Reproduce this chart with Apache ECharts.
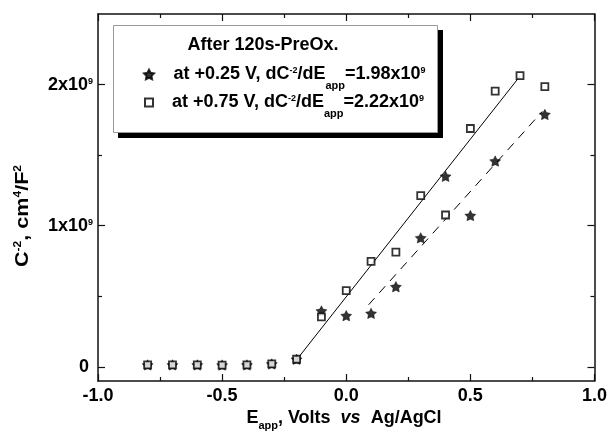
<!DOCTYPE html>
<html><head><meta charset="utf-8">
<script src="https://cdn.jsdelivr.net/npm/echarts@6/dist/echarts.min.js"></script>
<style>html,body{margin:0;padding:0;background:#fff}#c{width:610px;height:441px}</style>
</head><body><div id="c"></div>
<script>
// ---- data (y in units of 1e9 cm^4/F^2) ----
const squareX = [-0.8, -0.7, -0.6, -0.5, -0.4, -0.3, -0.2, -0.1, 0.0, 0.1, 0.2, 0.3, 0.4, 0.5, 0.6, 0.7, 0.8];
const squareY = [0.014, 0.014, 0.014, 0.013, 0.014, 0.021, 0.054, 0.355, 0.54, 0.747, 0.813, 1.213, 1.076, 1.689, 1.953, 2.064, 1.986];
const starX = [-0.8, -0.7, -0.6, -0.5, -0.4, -0.3, -0.2, -0.1, 0.0, 0.1, 0.2, 0.3, 0.4, 0.5, 0.6, 0.8];
const starY = [0.014, 0.014, 0.014, 0.013, 0.014, 0.021, 0.054, 0.396, 0.363, 0.379, 0.568, 0.914, 1.35, 1.072, 1.458, 1.788];
const fitSquareX = [-0.2, 0.7];
const fitSquareY = [0.05, 2.06];
const fitStarX = [0.09, 0.79];
const fitStarY = [0.44, 1.81];
const xTickLabels = ['-1.0', '-0.5', '0.0', '0.5', '1.0'];
const yMajorTicks = [0, 1, 2];
const yMinorTicks = [0.5, 1.5];
const starName = 'at +0.25 V';
const squareName = 'at +0.75 V';
const legendTitle = 'After 120s-PreOx.';

const FONT = '"Liberation Sans", Arial, sans-serif';
const FS = 18;
const STAR = 'path://M0,-10L3.0,-4.2L9.51,-3.09L4.9,1.6L5.88,8.09L0,5.2L-5.88,8.09L-4.9,1.6L-9.51,-3.09L-3.0,-4.2Z';
const SQUARE = 'path://M0,0H10V10H0Z';
const AX = '#111';

const richText = {
  n: {fontSize: FS, fontWeight: 'bold', fontFamily: FONT, color: '#000'},
  i: {fontSize: FS, fontWeight: 'bold', fontStyle: 'italic', fontFamily: FONT, color: '#000'},
  sup: {fontSize: 9, fontWeight: 'bold', fontFamily: FONT, color: '#000', padding: [0, 0, 8, 0]},
  ysup: {fontSize: 10, fontWeight: 'bold', fontFamily: FONT, color: '#000', padding: [0, 0, 9, 0]},
  sub: {fontSize: 11, fontWeight: 'bold', fontFamily: FONT, color: '#000', padding: [22, 0, 0, 0]},
  xsub: {fontSize: 11, fontWeight: 'bold', fontFamily: FONT, color: '#000', padding: [15, 0, 0, 0]},
  gap1: {width: 14.5},
  gap2: {width: 14}
};

function xAxisDef(pos, showLabel) {
  return {
    type: 'value', position: pos, min: -1, max: 1, interval: 0.5,
    axisLine: {show: true, onZero: false, lineStyle: {color: AX, width: 1.5}},
    axisTick: {show: true, inside: true, length: 7, lineStyle: {color: AX, width: 1.2}},
    minorTick: {show: true, splitNumber: 2, length: 4, lineStyle: {color: AX, width: 1.2}},
    splitLine: {show: false}, minorSplitLine: {show: false},
    axisLabel: {show: showLabel, margin: 6, fontSize: FS, fontWeight: 'bold', color: '#000', fontFamily: FONT,
      formatter: v => xTickLabels[Math.round((v + 1) / 0.5)]}
  };
}
function yAxisDef(pos, ticks, len, showLine, showLabel) {
  return {
    type: 'value', position: pos, min: -0.1, max: 2.5,
    axisLine: {show: showLine, onZero: false, lineStyle: {color: AX, width: 1.5}},
    axisTick: {show: true, inside: true, length: len, customValues: ticks, lineStyle: {color: AX, width: 1.2}},
    splitLine: {show: false},
    axisLabel: {show: showLabel, customValues: ticks, margin: 5,
      formatter: v => v === 0 ? '{z|0}' : '{n|' + v + 'x10}{s|9}',
      rich: {
        n: {fontSize: FS, fontWeight: 'bold', fontFamily: FONT, color: '#000'},
        z: {fontSize: FS, fontWeight: 'bold', fontFamily: FONT, color: '#000', padding: [0, 4, 0, 0]},
        s: {fontSize: 9, fontWeight: 'bold', fontFamily: FONT, color: '#000', padding: [0, 0, 6, 0]}
      }}
  };
}

const chart = echarts.init(document.getElementById('c'), null, {renderer: 'canvas'});
chart.setOption({
  animation: false,
  backgroundColor: '#fff',
  grid: {left: 98, right: 14, top: 14, bottom: 60},
  xAxis: [xAxisDef('bottom', true), xAxisDef('top', false)],
  yAxis: [
    yAxisDef('left', yMajorTicks, 7, true, true),
    yAxisDef('left', yMinorTicks, 4, false, false),
    yAxisDef('right', yMajorTicks, 7, true, false),
    yAxisDef('right', yMinorTicks, 4, false, false)
  ],
  graphic: [
    {type: 'rect', z: 1, shape: {x: 118, y: 30, width: 325, height: 108}, style: {fill: '#000'}},
    {type: 'rect', z: 1, shape: {x: 113.5, y: 25.5, width: 324, height: 107}, style: {fill: '#fff', stroke: '#999', lineWidth: 1}},
    {type: 'text', z: 5, x: 263, y: 45, style: {text: legendTitle, font: 'bold ' + FS + 'px ' + FONT, fill: '#000', align: 'center', verticalAlign: 'middle'}},
    {type: 'text', z: 5, x: 344, y: 418, style: {text: '{n|E}{xsub|app}{n|, Volts  }{i|vs}{n|  Ag/AgCl}', rich: richText, align: 'center', verticalAlign: 'middle'}},
    {type: 'text', z: 5, x: 23, y: 216, rotation: Math.PI / 2, scaleX: 1.2, scaleY: 1,
      style: {text: '{n|C}{ysup|-2}{n|, cm}{ysup|4}{n|/F}{ysup|2}', rich: richText, align: 'center', verticalAlign: 'middle'}}
  ],
  legend: [
    {data: [{name: starName, icon: STAR}], left: 143, top: 65.5, padding: 0, itemWidth: 10, itemHeight: 10,
      selectedMode: false, symbolKeepAspect: true,
      formatter: () => '{gap1|}{n|at +0.25 V, dC}{sup|-2}{n|/dE}{sub|app}{n|=1.98x10}{sup|9}',
      textStyle: {rich: richText}},
    {data: [{name: squareName, icon: SQUARE, itemStyle: {color: '#fff', borderColor: '#000', borderWidth: 2}}],
      left: 144, top: 93.5, padding: 0, itemWidth: 8, itemHeight: 8,
      selectedMode: false, symbolKeepAspect: true,
      formatter: () => '{gap2|}{n|at +0.75 V, dC}{sup|-2}{n|/dE}{sub|app}{n|=2.22x10}{sup|9}',
      textStyle: {rich: richText}}
  ],
  series: [
    {type: 'line', data: fitSquareX.map((x, i) => [x, fitSquareY[i]]), symbol: 'none', silent: true, z: 1,
      lineStyle: {color: '#000', width: 1}},
    {type: 'line', data: fitStarX.map((x, i) => [x, fitStarY[i]]), symbol: 'none', silent: true, z: 1,
      lineStyle: {color: '#000', width: 1, type: [9, 7]}},
    {type: 'scatter', name: starName, data: starX.map((x, i) => [x, starY[i]]), symbol: STAR, symbolSize: 11,
      symbolKeepAspect: true, itemStyle: {color: '#000', borderColor: '#000', borderWidth: 0.5}, z: 2},
    {type: 'scatter', name: squareName, data: squareX.map((x, i) => [x, squareY[i]]), symbol: 'rect', symbolSize: 7,
      itemStyle: {color: '#fff', borderColor: '#000', borderWidth: 1.8}, z: 3}
  ]
});
</script>
</body></html>
